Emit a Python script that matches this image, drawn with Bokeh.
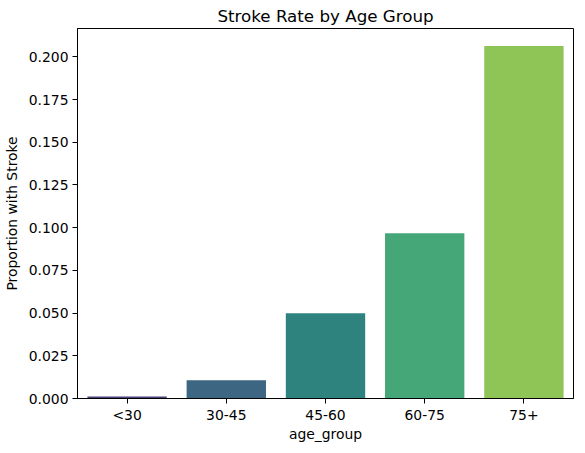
from bokeh.plotting import figure
from bokeh.models import Range1d, FixedTicker, NumeralTickFormatter
from bokeh.embed import file_html
from bokeh.resources import INLINE

age_groups = ["<30", "30-45", "45-60", "60-75", "75+"]
stroke_rate = [0.0011, 0.0107, 0.0499, 0.0968, 0.2063]
bar_colors = ["#4b4078", "#3d6682", "#2f837f", "#45a778", "#8fc556"]
y_ticks = [0.0, 0.025, 0.05, 0.075, 0.1, 0.125, 0.15, 0.175, 0.2]

FONT = "DejaVu Sans"

p = figure(x_range=age_groups, frame_width=496, frame_height=370,
           title="Stroke Rate by Age Group",
           x_axis_label="age_group", y_axis_label="Proportion with Stroke",
           output_backend="svg", toolbar_location=None,
           min_border_left=74, min_border_right=2,
           min_border_top=25, min_border_bottom=36)

p.y_range = Range1d(0, max(stroke_rate) * 1.05)

p.vbar(x=age_groups, top=stroke_rate, width=0.8, color=bar_colors, line_color=None)

p.title.align = "center"
p.title.text_font = FONT
p.title.text_font_size = "16.7px"
p.title.text_font_style = "normal"
p.title.text_color = "black"
p.title.text_line_height = 1.0
p.title.standoff = 6

p.xgrid.visible = False
p.ygrid.visible = False
p.outline_line_color = "black"
p.outline_line_width = 1
p.background_fill_color = "white"
p.border_fill_color = "white"

for ax in (p.xaxis, p.yaxis):
    ax.axis_line_color = "black"
    ax.major_tick_line_color = "black"
    ax.major_tick_out = 5
    ax.major_tick_in = 0
    ax.minor_tick_line_color = None
    ax.major_label_text_font = FONT
    ax.major_label_text_font_size = "13.9px"
    ax.major_label_text_color = "black"
    ax.axis_label_text_font = FONT
    ax.axis_label_text_font_size = "13.9px"
    ax.axis_label_text_font_style = "normal"
    ax.axis_label_text_color = "black"

p.yaxis.major_label_standoff = 4
p.yaxis.axis_label_standoff = 6
p.xaxis.major_label_standoff = 3
p.xaxis.axis_label_standoff = 0

p.yaxis.ticker = FixedTicker(ticks=y_ticks)
p.yaxis.formatter = NumeralTickFormatter(format="0.000")

open("out.html", "w").write(file_html(p, INLINE))
